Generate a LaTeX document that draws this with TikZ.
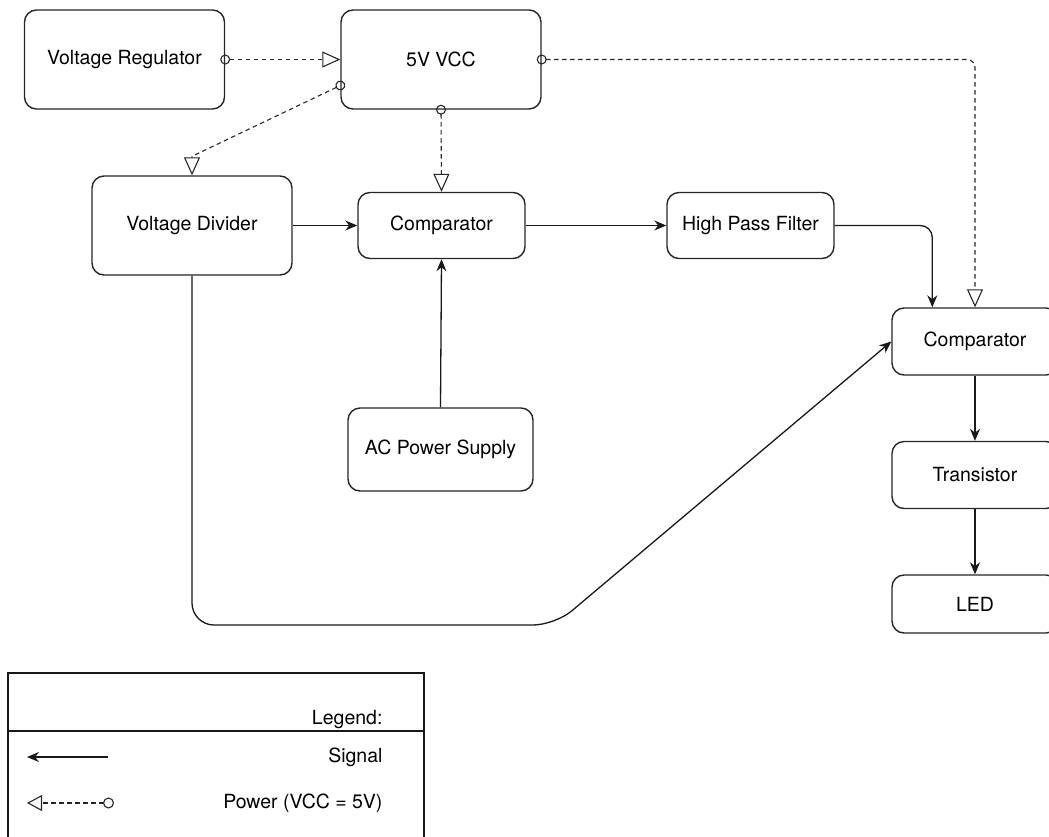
\documentclass[tikz,border=0pt]{standalone}
\usepackage{fontspec}
\setmainfont{TeX Gyre Heros}
\usetikzlibrary{arrows.meta,positioning,calc}
\tikzset{
  basebox/.style={rectangle,rounded corners=12pt,draw=black!85,line width=1.4pt,
                  align=center,font=\fontsize{19.5}{23}\selectfont},
  bigbox/.style={basebox,minimum width=200pt,minimum height=99pt},
  smallbox/.style={basebox,minimum width=167pt,minimum height=66pt},
  sig/.style={-{Stealth[length=12pt,width=10pt]},line width=1.3pt,color=black!90},
  pwr/.style={{Circle[open,length=10pt,width=10pt]}-{Triangle[open,length=18pt,width=16pt]},
              line width=1.1pt,dash pattern=on 4.5pt off 3.5pt,color=black!85,
              shorten <=-5pt},
  legtext/.style={anchor=east,font=\fontsize{19.5}{23}\selectfont}
}
\begin{document}
\begin{tikzpicture}[x=1pt,y=-1pt]
  \useasboundingbox (0,0) rectangle (1049,836);
  \clip (0,0) rectangle (1049,836);

  % supply side
  \node[bigbox] (vreg) at (124.5,59.5) {Voltage Regulator};
  \node[bigbox] (vcc) at (441,59.5) {5V VCC};
  \node[bigbox] (vdiv) at (192,225.5) {Voltage Divider};

  % signal chain
  \node[smallbox] (comp) at (441.5,225.5) {Comparator};
  \node[smallbox] (hpf) at (750.5,225.5) {High Pass Filter};
  \node[basebox,minimum width=185pt,minimum height=83pt] (acps) at (440.5,449.5)
      {AC Power Supply};

  % output column
  \node[basebox,minimum width=166pt,minimum height=67pt] (compout) at (975,341.5) {Comparator};
  \node[basebox,minimum width=166pt,minimum height=67pt] (trans) at (975,475) {Transistor};
  \node[basebox,minimum width=166pt,minimum height=58pt] (led) at (975,604) {LED};

  % power lines
  \draw[pwr] (vreg.east) -- (vcc.west);
  \draw[pwr] ([yshift=-26pt]vcc.west) -- ([yshift=19pt]vdiv.north) -- (vdiv.north);
  \draw[pwr] (vcc.south) -- (comp.north);
  \draw[pwr,rounded corners=8pt] (vcc.east) -| (compout.north);

  % signal lines
  \coordinate (bend) at (555,625);
  \draw[sig] (vdiv.east) -- (comp.west);
  \draw[sig] (comp.east) -- (hpf.west);
  \draw[sig] (acps.north) -- (comp.south);
  \draw[sig,rounded corners=12pt] (hpf.east) -| ([xshift=41pt]compout.north west);
  \draw[sig,rounded corners=22pt] (vdiv.south) |- (bend) -- (compout.west);
  \draw[sig] (compout.south) -- (trans.north);
  \draw[sig] (trans.south) -- (led.north);

  % legend
  \draw[line width=1.9pt,color=black!90] (8,673) rectangle (424,870);
  \draw[line width=1.9pt,color=black!90] (8,731) -- (424,731);
  \node[legtext] (leghead) at (386,720) {Legend:};
  \node[legtext] (legsig) at (386,757) {Signal};
  \node[legtext] (legpwr) at (386,803) {Power (VCC = 5V)};
  \coordinate (sigstart) at (108,757);
  \coordinate (sigend) at (27,757);
  \coordinate (pwrstart) at (114,803);
  \coordinate (pwrend) at (27,803);
  \draw[sig] (sigstart) -- (sigend);
  \draw[pwr,{Circle[open,length=11pt,width=11pt]}-{Triangle[open,length=15pt,width=16pt]},
        shorten <=0pt] (pwrstart) -- (pwrend);

\end{tikzpicture}
\end{document}
